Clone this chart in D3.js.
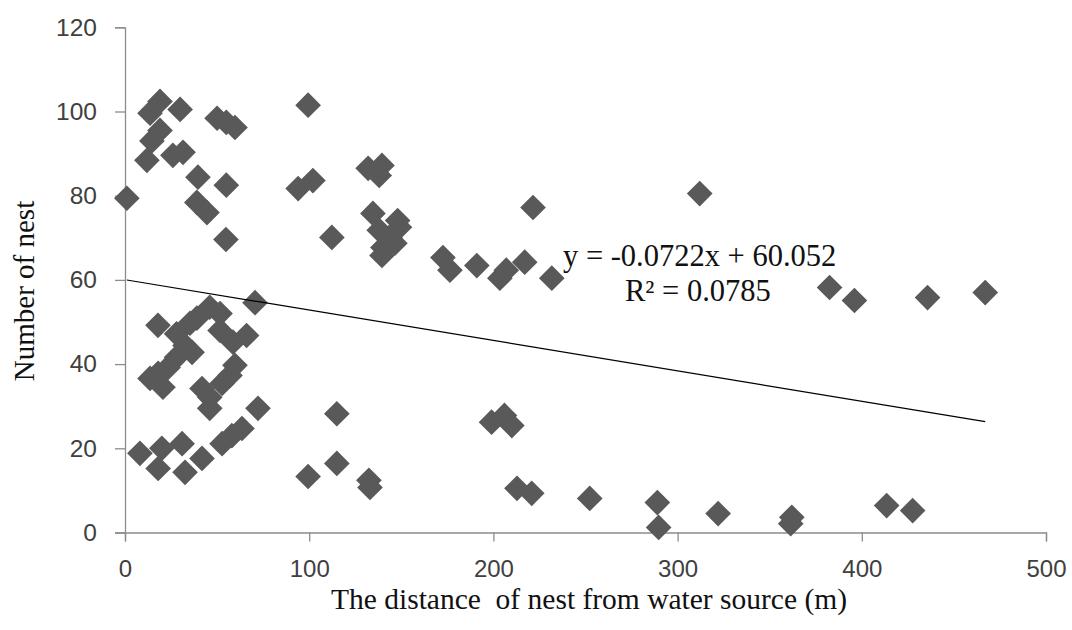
<!DOCTYPE html>
<html><head><meta charset="utf-8">
<script src="https://cdn.jsdelivr.net/npm/d3@7"></script>
<style>
html,body{margin:0;padding:0;background:#fff;}
svg{display:block;}
</style></head>
<body>
<svg id="chart" width="1072" height="630"></svg>
<script>
// Distance of nest from water source (m)
const distance = [19,29.9,13.6,50,55,59.7,19,14.6,11.9,31.5,26,39.6,55,1,39,44.5,54.8,
  99.4,94,102,132,139.5,138,112.3,134.6,148,149,138,143.8,140,139.5,146.5,
  172.6,176.4,191,203.5,207,217,231.7,221.5,312,382.5,396,435.7,467,
  115,99.4,115,132.4,133,199,206,210,212.8,220.8,252.3,289,289.7,322,362,361.4,413.5,427.6,
  70.6,46,51.6,39,35.3,17.9,51.6,66,58.6,28,32.6,36.4,28,23.4,18,13.6,20.6,
  59.7,57,52.7,41.8,46,46,72.2,63.5,58,52.7,8.1,20,31,18,32.6,41.8];
// Number of nest
const nests = [102.4,100.5,99.6,98.4,97.4,96.2,95.5,93,88.4,90.3,89.6,84.4,82.5,79.4,78.4,76,69.6,
  101.5,81.7,83.6,86.5,87.2,84.8,70.1,75.8,74.1,72.5,71.8,70.1,67.7,65.8,68.7,
  65.3,62.3,63.4,60.4,62.3,64.2,60.4,77.2,80.5,58.2,55.1,55.8,57,
  28.2,13.3,16.4,12.4,10.7,26.2,27.8,25.4,10.5,9.3,8.1,7.1,1.2,4.5,3.6,2.1,6.4,5.2,
  54.6,53.5,52,50.9,49.7,49.2,48,46.8,45.2,47.2,44.4,42.8,41.6,39.2,37.8,36.6,34.5,
  39.7,37.3,35.4,34.2,32.1,29.5,29.5,24.7,23,21.1,18.8,20,21.1,15.2,14.3,17.6];
const xTicks = [0,100,200,300,400,500];
const yTicks = [0,20,40,60,80,100,120];
const slope = -0.0722, intercept = 60.052;
const eqLine1 = "y = -0.0722x + 60.052";
const eqLine2 = "R\u00B2 = 0.0785";
const xTitle = "The distance  of nest from water source (m)";
const yTitle = "Number of nest";

const svg = d3.select("#chart");
const x = d3.scaleLinear().domain([0,500]).range([125,1046]);
const y = d3.scaleLinear().domain([0,120]).range([532.5,27.3]);
const axisColor = "#8c8c8c";
const labelColor = "#404040";
const sans = "'Liberation Sans', Arial, sans-serif";

// X axis
const gx = svg.append("g").attr("transform",`translate(0,${y(0)})`)
  .call(d3.axisBottom(x).tickValues(xTicks).tickSize(9).tickPadding(18).tickFormat(d3.format("d")));
gx.select(".domain").attr("stroke",axisColor).attr("stroke-width",1.3);
gx.selectAll(".tick line").attr("stroke",axisColor).attr("stroke-width",1.3);
gx.selectAll(".tick text").attr("fill",labelColor).attr("font-family",sans).attr("font-size",24);

// Y axis
const gy = svg.append("g").attr("transform",`translate(${x(0)},0)`)
  .call(d3.axisLeft(y).tickValues(yTicks).tickSize(10).tickPadding(18).tickFormat(d3.format("d")));
gy.select(".domain").attr("stroke",axisColor).attr("stroke-width",1.3);
gy.selectAll(".tick line").attr("stroke",axisColor).attr("stroke-width",1.3);
gy.selectAll(".tick text").attr("fill",labelColor).attr("font-family",sans).attr("font-size",24.5);

// Points
const pts = distance.map((d,i)=>({x:d,y:nests[i]}));
const sym = d3.symbol().type(d3.symbolSquare).size(330);
svg.append("g").selectAll("path").data(pts).join("path")
  .attr("d",sym)
  .attr("transform",d=>`translate(${x(d.x)},${y(d.y)}) rotate(45)`)
  .attr("fill","#595959");

// Trendline
const xmin = d3.min(distance), xmax = d3.max(distance);
svg.append("line")
  .attr("x1",x(xmin)).attr("y1",y(slope*xmin+intercept))
  .attr("x2",x(xmax)).attr("y2",y(slope*xmax+intercept))
  .attr("stroke","#000").attr("stroke-width",1.2);

// Equation
const serif = "'Liberation Serif', 'Times New Roman', serif";
svg.append("text").attr("x",563).attr("y",266).attr("font-family",serif).attr("font-size",30.5).attr("fill","#111").text(eqLine1);
svg.append("text").attr("x",625).attr("y",301).attr("font-family",serif).attr("font-size",30.5).attr("fill","#111").text(eqLine2);

// Axis titles
svg.append("text").attr("x",589).attr("y",609).attr("text-anchor","middle")
  .attr("font-family",serif).attr("font-size",29.5).attr("fill","#111")
  .style("white-space","pre").text(xTitle);
svg.append("text").attr("transform","translate(34,291) rotate(-90)").attr("text-anchor","middle")
  .attr("font-family",serif).attr("font-size",29).attr("fill","#111").text(yTitle);
</script>
</body></html>
